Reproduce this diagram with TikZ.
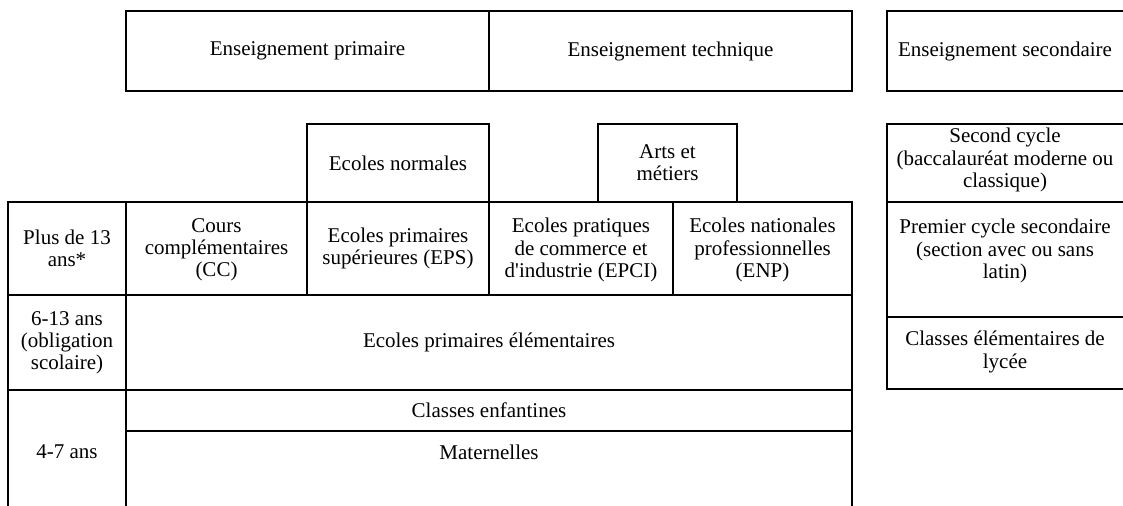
\documentclass[tikz,border=0pt]{standalone}
\usepackage{fontspec}
\setmainfont{Liberation Serif}

\tikzset{
    cadre/.style={line width=1.2pt,color=black},
    texte/.style={align=center,inner sep=0pt,font=\fontsize{10.5}{11.1}\selectfont}
}

\begin{document}
\begin{tikzpicture}[line cap=rect,line join=miter,x=0.5pt,y=-0.5pt]
    \useasboundingbox (0,0) rectangle (1123,506);
    \clip (0,0) rectangle (1123,506);

    % rangee du haut
    \draw[cadre] (126,11) rectangle (489,91);
    \draw[cadre] (489,11) rectangle (852,91);
    \draw[cadre] (887,11) rectangle (1140,91);

    % ecoles normales, arts et metiers, second cycle
    \draw[cadre] (307,124) rectangle (489,202);
    \draw[cadre] (598,124) rectangle (737,202);
    \draw[cadre] (887,124) rectangle (1140,202);

    % plus de 13 ans
    \draw[cadre] (8,202) rectangle (126,295);
    \draw[cadre] (126,202) rectangle (307,295);
    \draw[cadre] (307,202) rectangle (489,295);
    \draw[cadre] (489,202) rectangle (673,295);
    \draw[cadre] (673,202) rectangle (852,295);
    \draw[cadre] (887,202) rectangle (1140,317);

    % 6-13 ans
    \draw[cadre] (8,295) rectangle (126,390);
    \draw[cadre] (126,295) rectangle (852,390);
    \draw[cadre] (887,317) rectangle (1140,389);

    % 4-7 ans
    \draw[cadre] (8,390) rectangle (126,520);
    \draw[cadre] (126,390) rectangle (852,431);
    \draw[cadre] (126,431) rectangle (852,520);

    \begin{scope}[every node/.style={texte}]
        \node (primaire) at (307.5,51) {Enseignement primaire};
        \node (technique) at (670.5,51) {Enseignement technique};
        \node (secondaire) at (1005,51) {Enseignement secondaire};

        \node (normales) at (398,163) {Ecoles normales};
        \node (arts) at (667.5,163) {Arts et\\m\'etiers};
        \node (second) at (1005,160) {Second cycle\\(baccalaur\'eat moderne ou\\classique)};

        \node (plus) at (67,248.5) {Plus de 13\\ans*};
        \node (cc) at (216.5,250) {Cours\\compl\'ementaires\\(CC)};
        \node (eps) at (398,248.5) {Ecoles primaires\\sup\'erieures (EPS)};
        \node (epci) at (581,250) {Ecoles pratiques\\de commerce et\\d\textquotesingle industrie (EPCI)};
        \node (enp) at (762.5,250) {Ecoles nationales\\professionnelles\\(ENP)};
        \node (premier) at (1005,251) {Premier cycle secondaire\\(section avec ou sans\\latin)};

        \node (age) at (67,342.5) {6-13 ans\\(obligation\\scolaire)};
        \node (elem) at (489,342.5) {Ecoles primaires \'el\'ementaires};
        \node (lycee) at (1005,352) {Classes \'el\'ementaires de\\lyc\'ee};

        \node (petits) at (67,452) {4-7 ans};
        \node (enfantines) at (489,410.5) {Classes enfantines};
        \node (maternelles) at (489,452) {Maternelles};
    \end{scope}
\end{tikzpicture}
\end{document}
